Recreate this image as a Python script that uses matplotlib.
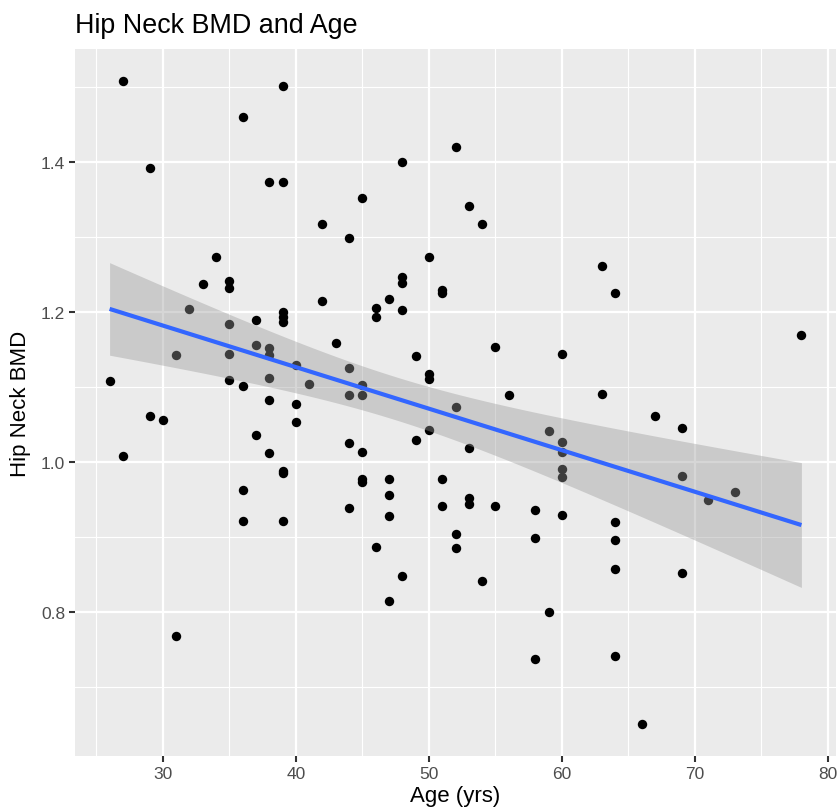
import numpy as np
import matplotlib
matplotlib.use("Agg")
import matplotlib.pyplot as plt
from matplotlib.ticker import FixedLocator

# ---- data ----
age = [27, 39, 36, 29, 38, 39, 42, 34, 33, 35, 35, 42, 32, 35, 37, 39, 39, 39, 43, 31,
       37, 38, 38, 35, 40, 26, 35, 36, 41, 38, 38,
       40, 29, 30, 40, 37, 27, 38, 39, 39, 36, 36, 39, 31,
       52, 48, 45, 53, 54, 44, 50, 48, 48, 51, 51, 47, 46, 46, 48, 55, 60, 49, 50, 50,
       44, 45, 44, 45, 56,
       52, 50, 44, 49, 45, 53, 59, 60, 60, 60, 60, 45, 45, 47, 51, 47, 44, 51, 53, 53,
       55, 58, 60, 47, 52, 58, 52, 46, 48, 54, 47, 59, 58,
       63, 64, 78, 63, 67, 69, 69, 73, 71, 64, 64, 64, 69, 64, 66]
bmd = [1.508, 1.501, 1.460, 1.392, 1.373, 1.373, 1.317, 1.274, 1.238, 1.241, 1.232, 1.215,
       1.204, 1.184, 1.190, 1.200, 1.193, 1.187, 1.159, 1.143,
       1.156, 1.152, 1.143, 1.144, 1.130, 1.108, 1.110, 1.102, 1.104, 1.112, 1.083,
       1.078, 1.061, 1.056, 1.054, 1.036, 1.008, 1.012, 0.988, 0.985, 0.963, 0.922, 0.921, 0.768,
       1.420, 1.400, 1.352, 1.342, 1.318, 1.299, 1.274, 1.247, 1.239, 1.230, 1.226, 1.217,
       1.205, 1.193, 1.203, 1.154, 1.144, 1.141, 1.118, 1.111,
       1.125, 1.103, 1.090, 1.090, 1.089,
       1.074, 1.043, 1.026, 1.030, 1.013, 1.019, 1.042, 1.027, 1.013, 0.991, 0.980, 0.978,
       0.973, 0.977, 0.977, 0.956, 0.939, 0.941, 0.952, 0.944,
       0.942, 0.936, 0.930, 0.928, 0.904, 0.899, 0.885, 0.887, 0.848, 0.842, 0.815, 0.800, 0.738,
       1.261, 1.226, 1.170, 1.091, 1.062, 1.045, 0.981, 0.960, 0.950, 0.920, 0.896, 0.858,
       0.852, 0.742, 0.651]

x_major = [30, 40, 50, 60, 70, 80]
x_minor = [25, 35, 45, 55, 65, 75]
y_major = [0.8, 1.0, 1.2, 1.4]
y_minor = [0.7, 0.9, 1.1, 1.3, 1.5]
y_labels = ["0.8", "1.0", "1.2", "1.4"]

title = "Hip Neck BMD and Age"
xlabel = "Age (yrs)"
ylabel = "Hip Neck BMD"

# ---- linear fit with 95% confidence band (like geom_smooth(method='lm')) ----
x = np.array(age, dtype=float)
y = np.array(bmd, dtype=float)
n = len(x)
slope, intercept = np.polyfit(x, y, 1)
resid = y - (slope * x + intercept)
s = np.sqrt(np.sum(resid ** 2) / (n - 2))
xs = np.linspace(x.min(), x.max(), 80)
ys = slope * xs + intercept
tq = 1.981  # t quantile 0.975, df = n-2
se = s * np.sqrt(1.0 / n + (xs - x.mean()) ** 2 / np.sum((x - x.mean()) ** 2))
lo, hi = ys - tq * se, ys + tq * se

plt.rcParams['font.family'] = ['Liberation Sans', 'DejaVu Sans']

W, H = 840, 812
fig = plt.figure(figsize=(W / 100, H / 100), dpi=100)
L, R, T, B = 75, 836, 50, 757
ax = fig.add_axes([L / W, 1 - B / H, (R - L) / W, (B - T) / H])
ax.set_facecolor('#EBEBEB')

ax.scatter(x, y, s=46, color='black', linewidths=0, zorder=3)
ax.fill_between(xs, lo, hi, color='#999999', alpha=0.4, linewidth=0, zorder=4)
ax.plot(xs, ys, color='#3366FF', linewidth=3.0, zorder=5, solid_capstyle='butt')

xr = x.max() - x.min()
yr = y.max() - y.min()
ax.set_xlim(x.min() - 0.05 * xr, x.max() + 0.05 * xr)
ax.set_ylim(y.min() - 0.05 * yr, y.max() + 0.05 * yr)

ax.xaxis.set_major_locator(FixedLocator(x_major))
ax.xaxis.set_minor_locator(FixedLocator(x_minor))
ax.yaxis.set_major_locator(FixedLocator(y_major))
ax.yaxis.set_minor_locator(FixedLocator(y_minor))
ax.set_yticklabels(y_labels)

ax.grid(which='major', color='white', linewidth=1.6, zorder=0)
ax.grid(which='minor', color='white', linewidth=0.8, zorder=0)
ax.set_axisbelow(True)
for sp in ax.spines.values():
    sp.set_visible(False)

ax.tick_params(which='major', length=4.0, width=1.5, color='#333333',
               labelsize=12.5, labelcolor='#4D4D4D', pad=3)
ax.tick_params(which='minor', length=0)

ax.set_xlabel(xlabel, fontsize=16, color='black', labelpad=3)
ax.set_ylabel(ylabel, fontsize=16, color='black', labelpad=7)

fig.text(L / W, 1 - 33 / H, title, fontsize=19.4, color='black', ha='left', va='baseline')

fig.savefig('out.png', dpi=100, facecolor='white')
